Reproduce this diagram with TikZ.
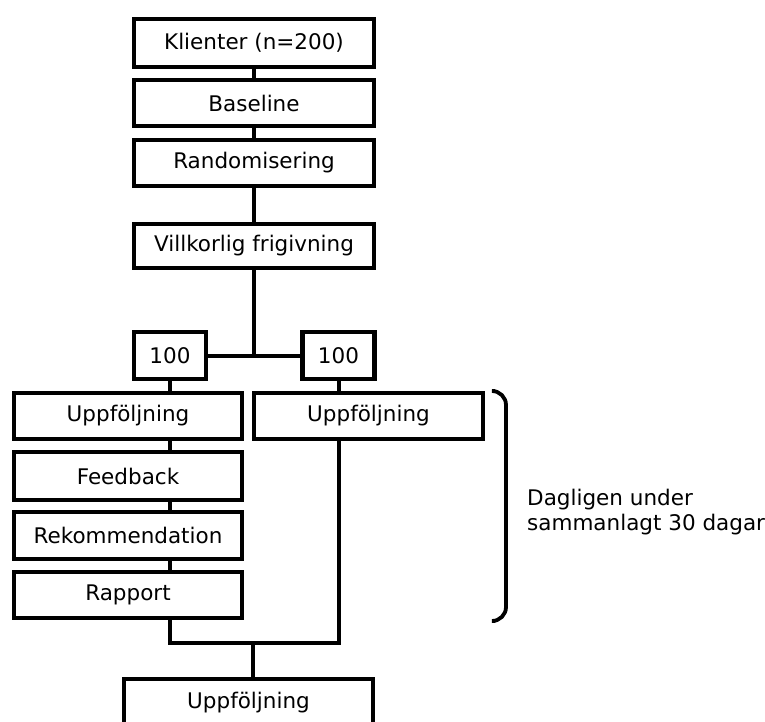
\documentclass[tikz,border=0pt]{standalone}
\usepackage{fontspec}
\setmainfont{DejaVu Sans}
\begin{document}
\begin{tikzpicture}[x=1pt,y=-1pt,
  box/.style={draw=black,line width=4.5pt,fill=white,inner sep=0pt,
    font=\fontsize{21.5}{25}\selectfont,text=black},
  conn/.style={draw=black,line width=4pt},
  brace/.style={draw=black,line width=3.8pt,rounded corners=14pt},
  lbl/.style={inner sep=0pt,font=\fontsize{21.5}{25}\selectfont,anchor=base west}]
\clip (0,0) rectangle (765,722);
\useasboundingbox (0,0) rectangle (765,722);
% top column
\node[box,minimum width=240pt,minimum height=48pt] (kl) at (254,43) {Klienter (n=200)};
\node[box,minimum width=240pt,minimum height=46pt] (bl) at (254,103) {Baseline};
\node[box,minimum width=240pt,minimum height=46pt] (rd) at (254,163) {Randomisering};
\node[box,minimum width=240pt,minimum height=44pt] (vf) at (254,246) {Villkorlig frigivning};
% split
\node[box,minimum width=72pt,minimum height=47pt] (la) at (170,355.5) {100};
\node[box,minimum width=72pt,minimum height=47pt] (ra) at (338.5,355.5) {100};
% left column
\node[box,minimum width=228pt,minimum height=46pt] (lu) at (128,416) {Uppföljning};
\node[box,minimum width=228pt,minimum height=48pt] (fb) at (128,476) {Feedback};
\node[box,minimum width=228pt,minimum height=47pt] (rk) at (128,535.5) {Rekommendation};
\node[box,minimum width=228pt,minimum height=46pt] (rp) at (128,595) {Rapport};
% right column
\node[box,minimum width=229pt,minimum height=46pt] (ru) at (368.5,416) {Uppföljning};
% bottom
\node[box,minimum width=249pt,minimum height=48pt] (bt) at (248.5,703) {Uppföljning};
% connectors
\draw[conn] (kl) -- (bl);
\draw[conn] (bl) -- (rd);
\draw[conn] (rd) -- (vf);
\draw[conn] (vf.south) -- (vf.south |- la.east);
\draw[conn] (la.east) -- (ra.west);
\draw[conn] (la.south) -- (la.south |- lu.north);
\draw[conn] (ra.south) -- (ra.south |- ru.north);
\draw[conn] (lu.south -| la.south) -- (fb.north -| la.south);
\draw[conn] (fb.south -| la.south) -- (rk.north -| la.south);
\draw[conn] (rk.south -| la.south) -- (rp.north -| la.south);
\coordinate (jn) at (253,643);
\draw[conn] (rp.south -| la.south) |- (jn) -| (ru.south -| ra.south);
\draw[conn] (jn) -- (jn |- bt.north);
% brace
\coordinate (bA) at (495,391);
\coordinate (bB) at (495,621);
\draw[brace] (bA) -- (506,391) -- (506,621) -- (bB);
\node[lbl] (t1) at (527,505) {Dagligen under};
\node[lbl] (t2) at (527,530) {sammanlagt 30 dagar};
\end{tikzpicture}
\end{document}
